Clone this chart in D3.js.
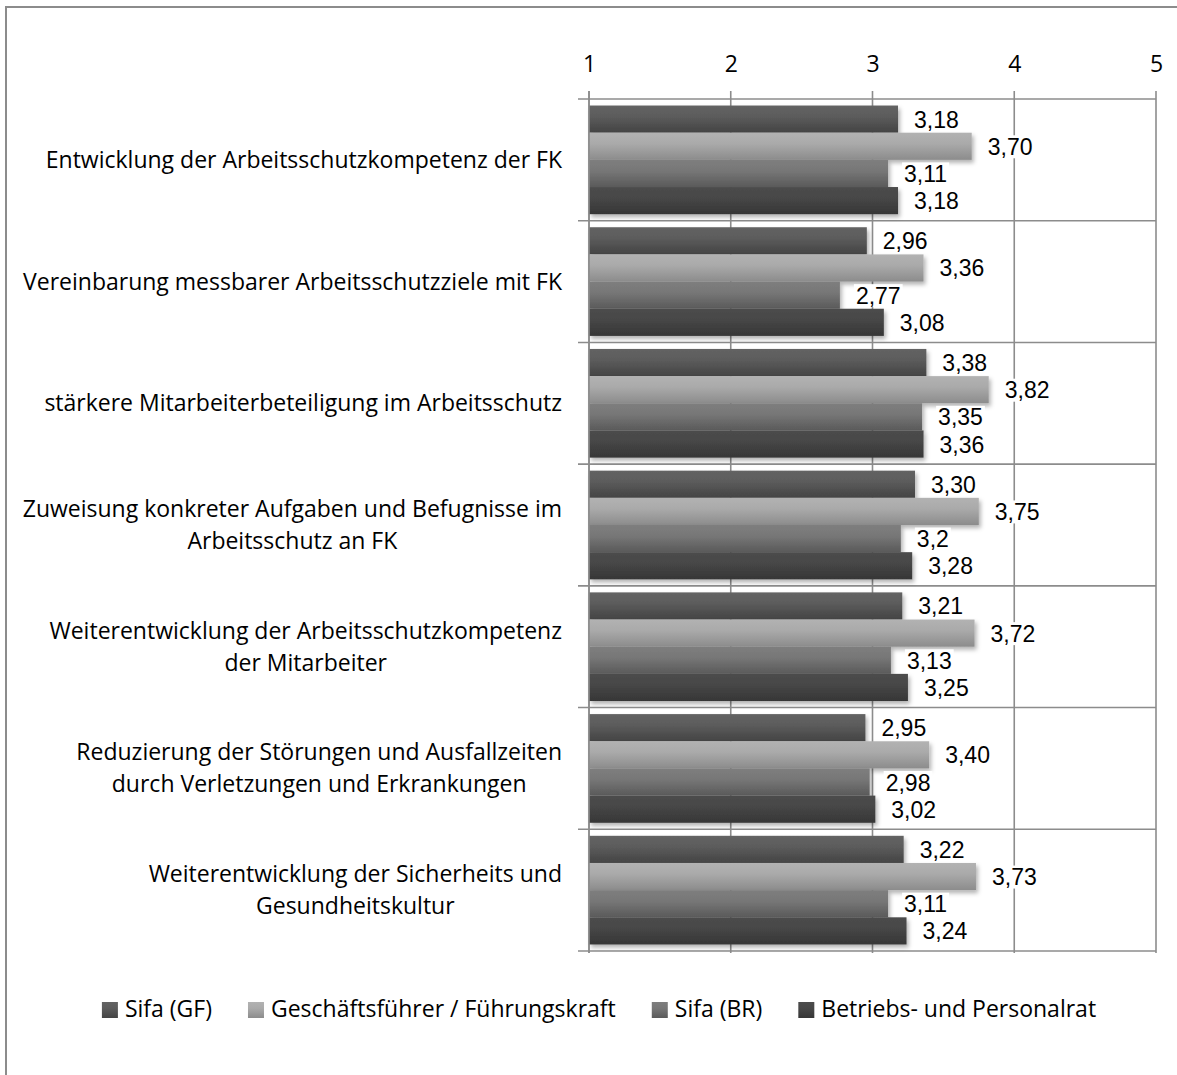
<!DOCTYPE html>
<html><head><meta charset="utf-8">
<script src="https://cdn.jsdelivr.net/npm/d3@7/dist/d3.min.js"></script>
<style>
html,body{margin:0;padding:0;background:#fff;}
svg{display:block;}
text{font-family:"Open Sans",sans-serif;fill:#000;}
text.val{font-family:"Liberation Sans",Arial,sans-serif;}
</style></head>
<body>
<svg id="chart" width="1177" height="1075"></svg>
<script>
const categories = [
  ["Entwicklung der Arbeitsschutzkompetenz der FK"],
  ["Vereinbarung messbarer Arbeitsschutzziele mit FK"],
  ["stärkere Mitarbeiterbeteiligung im Arbeitsschutz"],
  ["Zuweisung konkreter Aufgaben und Befugnisse im", "Arbeitsschutz an FK"],
  ["Weiterentwicklung der Arbeitsschutzkompetenz", "der Mitarbeiter"],
  ["Reduzierung der Störungen und Ausfallzeiten", "durch Verletzungen und Erkrankungen"],
  ["Weiterentwicklung der Sicherheits und", "Gesundheitskultur"]
];
const seriesNames = ["Sifa (GF)", "Geschäftsführer / Führungskraft", "Sifa (BR)", "Betriebs- und Personalrat"];
const sifaGF = [3.18, 2.96, 3.38, 3.30, 3.21, 2.95, 3.22];
const geschaeftsfuehrer = [3.70, 3.36, 3.82, 3.75, 3.72, 3.40, 3.73];
const sifaBR = [3.11, 2.77, 3.35, 3.2, 3.13, 2.98, 3.11];
const betriebsrat = [3.18, 3.08, 3.36, 3.28, 3.25, 3.02, 3.24];
const sifaBRLabels = ["3,11", "2,77", "3,35", "3,2", "3,13", "2,98", "3,11"];
const tickValues = [1, 2, 3, 4, 5];

const seriesValues = [sifaGF, geschaeftsfuehrer, sifaBR, betriebsrat];
const fmt = v => d3.format(".2f")(v).replace(".", ",");
const seriesLabels = [sifaGF.map(fmt), geschaeftsfuehrer.map(fmt), sifaBRLabels, betriebsrat.map(fmt)];

const gradColors = [
  ["#636363", "#5c5c5c", "#444444"],
  ["#b2b2b2", "#aaaaaa", "#8c8c8c"],
  ["#7e7e7e", "#777777", "#5a5a5a"],
  ["#4c4c4c", "#474747", "#363636"]
];

const FONT = 23;
const svg = d3.select("#chart");
const defs = svg.append("defs");
gradColors.forEach((c, i) => {
  const g = defs.append("linearGradient").attr("id", "g" + i).attr("x1", 0).attr("y1", 0).attr("x2", 0).attr("y2", 1);
  g.append("stop").attr("offset", "0%").attr("stop-color", c[0]);
  g.append("stop").attr("offset", "40%").attr("stop-color", c[1]);
  g.append("stop").attr("offset", "100%").attr("stop-color", c[2]);
});
const f = defs.append("filter").attr("id", "shadow").attr("x", "-5%").attr("y", "-20%").attr("width", "115%").attr("height", "160%");
f.append("feDropShadow").attr("dx", 2).attr("dy", 3).attr("stdDeviation", 2).attr("flood-color", "#000").attr("flood-opacity", 0.3);

// outer frame
svg.append("rect").attr("x", 6).attr("y", 7).attr("width", 1300).attr("height", 1200)
  .attr("fill", "none").attr("stroke", "#8c8c8c").attr("stroke-width", 2);

const x = d3.scaleLinear().domain([1, 5]).range([589, 1156]);
const catIdx = d3.range(categories.length);
const y = d3.scaleBand().domain(catIdx).range([99, 951]).padding(0);
const ySub = d3.scaleBand().domain(d3.range(seriesNames.length)).range([0, y.bandwidth()]).paddingOuter(0.24).paddingInner(0);

const plotTop = y.range()[0], plotBottom = y.range()[1];
// vertical gridlines
svg.append("g").selectAll("line").data(tickValues).join("line")
  .attr("x1", d => x(d)).attr("x2", d => x(d)).attr("y1", plotTop - 8).attr("y2", plotBottom + 2)
  .attr("stroke", "#8c8c8c").attr("stroke-width", 1.6);
// horizontal separators
svg.append("g").selectAll("line").data(d3.range(categories.length + 1)).join("line")
  .attr("x1", 578).attr("x2", x(5))
  .attr("y1", d => plotTop + d * y.step()).attr("y2", d => plotTop + d * y.step())
  .attr("stroke", "#8c8c8c").attr("stroke-width", 1.6);

// x axis labels
const xAxis = svg.append("g").attr("transform", "translate(0,72)")
  .call(d3.axisTop(x).tickValues(tickValues).tickSize(0).tickPadding(0).tickFormat(d3.format("d")));
xAxis.select(".domain").remove();
xAxis.selectAll("text").attr("font-size", FONT).attr("fill", "#000").attr("dy", "0");

// bars
const groups = svg.append("g").selectAll("g").data(catIdx).join("g")
  .attr("transform", c => `translate(0,${y(c)})`);
groups.selectAll("rect").data(c => seriesValues.map((s, i) => ({ s: i, v: s[c] }))).join("rect")
  .attr("x", x(1)).attr("y", d => ySub(d.s)).attr("height", ySub.bandwidth())
  .attr("width", d => x(d.v) - x(1)).attr("fill", d => `url(#g${d.s})`).attr("filter", "url(#shadow)");

// left axis line
svg.append("line").attr("x1", x(1)).attr("x2", x(1)).attr("y1", plotTop - 8).attr("y2", plotBottom + 2)
  .attr("stroke", "#8c8c8c").attr("stroke-width", 1.6);

// value labels
const lab = svg.append("g");
catIdx.forEach(c => {
  seriesValues.forEach((s, i) => {
    const cx = x(s[c]) + 16, cy = y(c) + ySub(i) + ySub.bandwidth() / 2;
    const t = lab.append("text").attr("class", "val").attr("x", cx).attr("y", cy + 8.5)
      .attr("font-size", 23).text(seriesLabels[i][c]);
    const bb = t.node().getBBox();
    lab.insert("rect", () => t.node()).attr("x", bb.x - 2).attr("y", cy - 11).attr("width", bb.width + 4).attr("height", 23).attr("fill", "#fff");
  });
});

// category labels
const catG = svg.append("g");
categories.forEach((lines, c) => {
  const cy = y(c) + y.bandwidth() / 2;
  const tmp = lines.map(l => catG.append("text").attr("font-size", FONT).text(l));
  const maxW = d3.max(tmp, t => t.node().getComputedTextLength());
  const cxm = 562 - maxW / 2;
  const lh = 32;
  tmp.forEach((t, k) => {
    t.attr("x", cxm).attr("text-anchor", "middle")
      .attr("y", cy + (k - (lines.length - 1) / 2) * lh + 8);
  });
});

// legend
const leg = svg.append("g");
const items = seriesNames.map((n, i) => {
  const t = leg.append("text").attr("font-size", FONT).attr("y", 1017).text(n);
  return { t, w: t.node().getComputedTextLength(), i };
});
const mk = 16, gapT = 7, gapI = 36;
const total = d3.sum(items, d => mk + gapT + d.w) + gapI * (items.length - 1);
let lx = 599 - total / 2;
items.forEach(d => {
  leg.append("rect").attr("x", lx).attr("y", 1002).attr("width", mk).attr("height", mk).attr("fill", `url(#g${d.i})`);
  d.t.attr("x", lx + mk + gapT);
  lx += mk + gapT + d.w + gapI;
});
</script>
</body></html>
